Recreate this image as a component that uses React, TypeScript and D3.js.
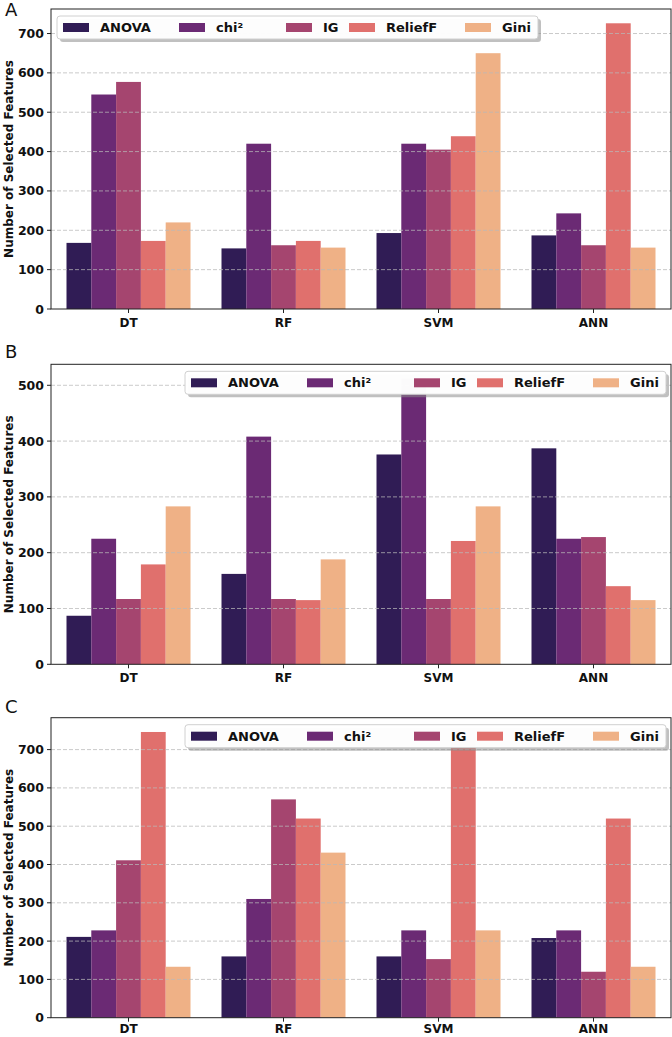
import React from 'react';
import * as d3 from 'd3';

const models = ['DT', 'RF', 'SVM', 'ANN'];
const methods = ['ANOVA', 'chi²', 'IG', 'ReliefF', 'Gini'];
const colors = ['#301c55', '#6b2a74', '#a5456f', '#e0706d', '#efb186'];

// panel A
const anovaA = [168, 154, 193, 187];
const chi2A = [545, 420, 420, 243];
const igA = [577, 162, 405, 162];
const reliefA = [173, 173, 439, 726];
const giniA = [220, 156, 650, 156];

// panel B
const anovaB = [87, 162, 376, 387];
const chi2B = [225, 408, 512, 225];
const igB = [117, 117, 117, 228];
const reliefB = [179, 115, 221, 140];
const giniB = [283, 188, 283, 115];

// panel C
const anovaC = [211, 160, 160, 208];
const chi2C = [228, 310, 228, 228];
const igC = [411, 570, 153, 120];
const reliefC = [746, 520, 725, 520];
const giniC = [133, 431, 228, 133];

const ticksA = [0, 100, 200, 300, 400, 500, 600, 700];
const ticksB = [0, 100, 200, 300, 400, 500];
const ticksC = [0, 100, 200, 300, 400, 500, 600, 700];

const FONT = '"DejaVu Sans", sans-serif';
const W = 672;
const H = 1037;
const left = 51;
const right = 671;
const plotH = 300;

// legend entry offsets inside the legend box
const legendOffsets = [6, 122, 229, 292, 408];
const legendW = 481;
const legendH = 23;

type PanelProps = {
  letter: string;
  top: number;
  letterY: number;
  series: number[][];
  ticks: number[];
  legendLeft: number;
  labelGap?: number;
};

const Panel = ({ letter, top, letterY, series, ticks, legendLeft, labelGap = 18 }: PanelProps) => {
  const bottom = top + plotH;
  const maxV = d3.max(series.flat()) as number;
  const y = d3.scaleLinear().domain([0, maxV * 1.05]).range([bottom, top]);
  const x0 = d3.scaleBand().domain(models).range([left, right]).paddingInner(0.2).paddingOuter(0.1);
  const x1 = d3.scaleBand().domain(methods).range([0, x0.bandwidth()]);
  const legendTop = top + 7;

  return (
    <g>
      <text x={5} y={letterY} fontFamily={FONT} fontSize={18} fill="#111">{letter}</text>

      {/* bars */}
      {models.map((m, i) => (
        <g key={m} transform={`translate(${x0(m)},0)`}>
          {methods.map((s, j) => (
            <rect key={s} x={x1(s)} width={x1.bandwidth()} y={y(series[j][i])}
              height={bottom - y(series[j][i])} fill={colors[j]} />
          ))}
        </g>
      ))}

      {/* dashed grid above the bars */}
      {ticks.filter(t => t > 0).map(t => (
        <line key={t} x1={left} x2={right} y1={y(t)} y2={y(t)} stroke="#b8b8b8"
          strokeOpacity={0.75} strokeDasharray="4,2" strokeWidth={1} />
      ))}

      {/* frame */}
      <rect x={left} y={top} width={right - left} height={plotH} fill="none" stroke="#222" strokeWidth={1} />

      {/* y axis */}
      {ticks.map(t => (
        <g key={t}>
          <line x1={left - 4} x2={left} y1={y(t)} y2={y(t)} stroke="#222" />
          <text x={left - 7} y={y(t)} dy="0.36em" textAnchor="end" fontFamily={FONT}
            fontWeight="bold" fontSize={12.5} fill="#111">{t}</text>
        </g>
      ))}
      <text transform={`translate(12.5,${(top + bottom) / 2}) rotate(-90)`} textAnchor="middle"
        fontFamily={FONT} fontWeight="bold" fontSize={12} fill="#111">Number of Selected Features</text>

      {/* x axis */}
      {models.map(m => {
        const cx = (x0(m) as number) + x0.bandwidth() / 2;
        return (
          <g key={m}>
            <line x1={cx} x2={cx} y1={bottom} y2={bottom + 4} stroke="#222" />
            <text x={cx} y={bottom + labelGap} textAnchor="middle" fontFamily={FONT}
              fontWeight="bold" fontSize={12} fill="#111">{m}</text>
          </g>
        );
      })}

      {/* legend */}
      <g transform={`translate(${legendLeft},${legendTop})`}>
        <rect x={3} y={3} width={legendW} height={legendH} rx={3} fill="#8c8c8c" fillOpacity={0.55} />
        <rect x={0} y={0} width={legendW} height={legendH} rx={3} fill="#fff" fillOpacity={0.97}
          stroke="#d0d0d0" strokeWidth={1} />
        {methods.map((s, j) => (
          <g key={s} transform={`translate(${legendOffsets[j]},0)`}>
            <rect x={0} y={legendH / 2 - 4.5} width={26} height={9} fill={colors[j]} />
            <text x={37} y={legendH / 2 + 4.7} fontFamily={FONT} fontWeight="bold" fontSize={13}
              fill="#111">{s}</text>
          </g>
        ))}
      </g>
    </g>
  );
};

export default function App() {
  return (
    <svg width={W} height={H} style={{ position: 'absolute', left: 0, top: 0, background: '#fff' }}>
      <rect width={W} height={H} fill="#fff" />
      <Panel letter="A" top={9} letterY={16} series={[anovaA, chi2A, igA, reliefA, giniA]}
        ticks={ticksA} legendLeft={57} />
      <Panel letter="B" top={364.3} letterY={358} series={[anovaB, chi2B, igB, reliefB, giniB]}
        ticks={ticksB} legendLeft={185} />
      <Panel letter="C" top={717.7} letterY={713} series={[anovaC, chi2C, igC, reliefC, giniC]}
        ticks={ticksC} legendLeft={185} labelGap={15.5} />
    </svg>
  );
}
